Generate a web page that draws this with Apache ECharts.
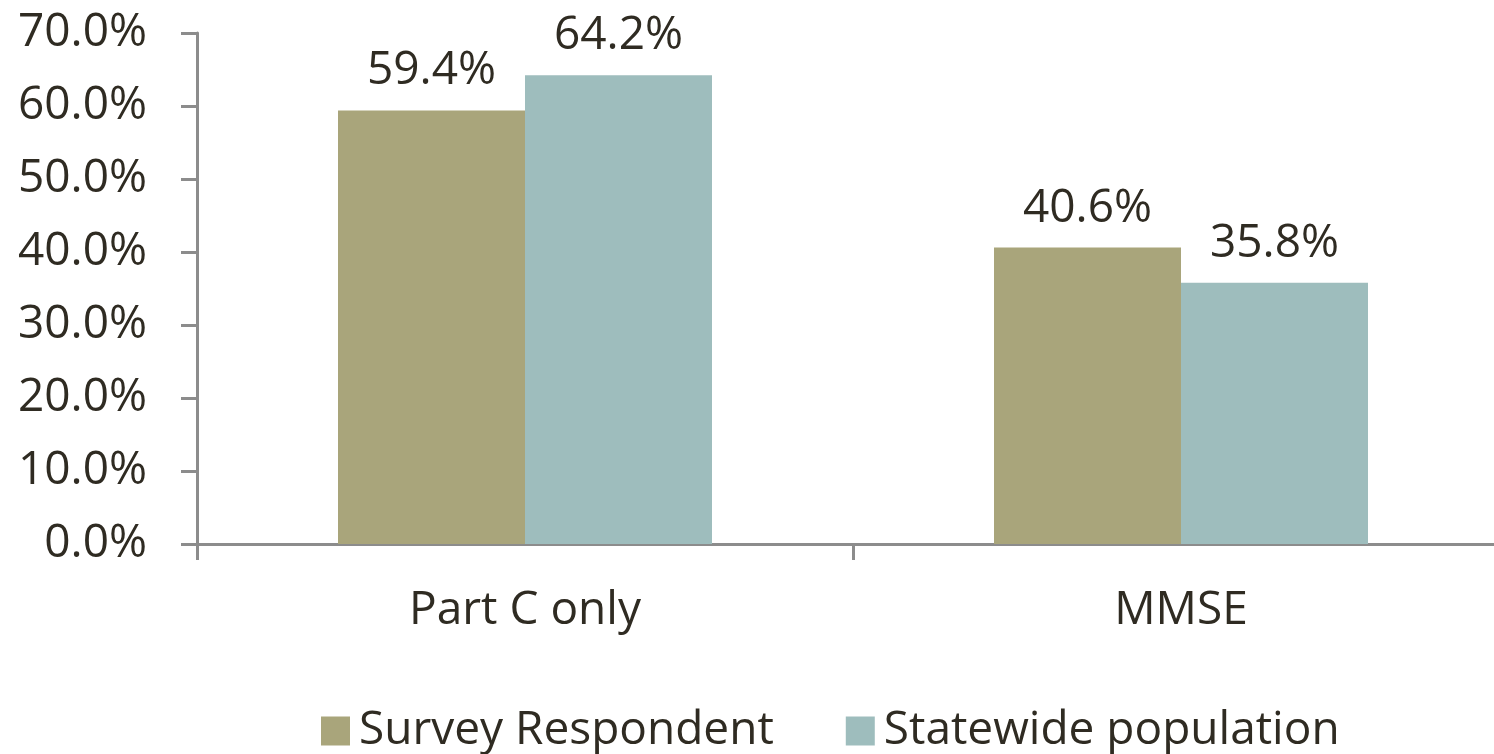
<!DOCTYPE html>
<html>
<head>
<meta charset="utf-8">
<script src="https://cdn.jsdelivr.net/npm/echarts@6/dist/echarts.min.js"></script>
<style>
  html, body { margin: 0; padding: 0; background: #ffffff; }
  #chart { width: 1494px; height: 754px; }
</style>
</head>
<body>
<div id="chart"></div>
<script>
// Share of members by plan type
const categories = ['Part C only', 'MMSE'];
const surveyRespondent = [59.4, 40.6];
const statewidePopulation = [64.2, 35.8];
const seriesNames = ['Survey Respondent', 'Statewide population'];
const yTicks = { min: 0, max: 70, interval: 10 };

const textColor = '#2f2b22';
const axisColor = '#8c8c8c';
const fontFamily = '"Open Sans", sans-serif';

const chart = echarts.init(document.getElementById('chart'), null, { renderer: 'canvas' });

const labelStyle = {
  show: true,
  position: 'top',
  distance: 16,
  color: textColor,
  fontFamily: fontFamily,
  fontSize: 46,
  formatter: p => p.value.toFixed(1) + '%'
};

chart.setOption({
  animation: false,
  backgroundColor: '#ffffff',
  grid: {
    left: 197, right: -15, top: 33, bottom: 210,
    containLabel: false,
    outerBoundsMode: 'none'
  },
  legend: {
    data: seriesNames,
    left: 316,
    top: 703,
    itemWidth: 29,
    itemHeight: 29,
    itemGap: 72,
    icon: 'rect',
    textStyle: { color: textColor, fontFamily: fontFamily, fontSize: 46, padding: [0, 0, 0, 4] }
  },
  xAxis: {
    type: 'category',
    data: categories,
    axisLine: { show: true, lineStyle: { color: axisColor, width: 3 } },
    axisTick: { show: true, alignWithLabel: false, length: 16, lineStyle: { color: axisColor, width: 3 } },
    axisLabel: { color: textColor, fontFamily: fontFamily, fontSize: 46, margin: 44 },
    splitLine: { show: false }
  },
  yAxis: {
    type: 'value',
    min: yTicks.min,
    max: yTicks.max,
    interval: yTicks.interval,
    axisLine: { show: true, lineStyle: { color: axisColor, width: 3 } },
    axisTick: { show: true, length: 16, lineStyle: { color: axisColor, width: 3 } },
    axisLabel: {
      color: textColor, fontFamily: fontFamily, fontSize: 46, margin: 50,
      formatter: v => v.toFixed(1) + '%'
    },
    splitLine: { show: false }
  },
  series: [
    {
      name: seriesNames[0],
      type: 'bar',
      data: surveyRespondent,
      barWidth: 187,
      barGap: '0%',
      itemStyle: { color: '#a9a57b' },
      label: labelStyle
    },
    {
      name: seriesNames[1],
      type: 'bar',
      data: statewidePopulation,
      barWidth: 187,
      barGap: '0%',
      itemStyle: { color: '#9ebdbd' },
      label: labelStyle
    }
  ]
});
</script>
</body>
</html>
